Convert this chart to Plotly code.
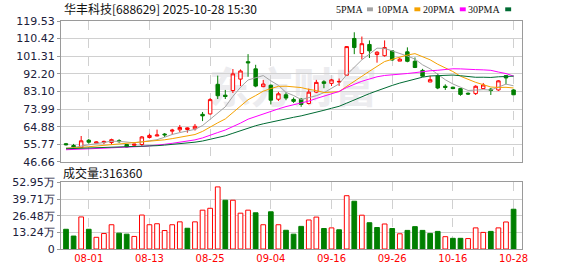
import plotly.graph_objects as go
import pandas as pd

# ---------------- data ----------------
dates = ["07-29", "07-30", "07-31", "08-01", "08-04", "08-05", "08-06", "08-07", "08-08",
         "08-11", "08-12", "08-13", "08-14", "08-15", "08-18", "08-19", "08-20", "08-21", "08-22",
         "08-25", "08-26", "08-27", "08-28", "08-29", "09-01", "09-02", "09-03", "09-04", "09-05",
         "09-08", "09-09", "09-10", "09-11", "09-12", "09-15", "09-16", "09-17", "09-18", "09-19",
         "09-22", "09-23", "09-24", "09-25", "09-26", "09-29", "09-30", "10-09", "10-10",
         "10-13", "10-14", "10-15", "10-16", "10-17", "10-20", "10-21", "10-22", "10-23", "10-24",
         "10-27", "10-28"]

opens = [56.1, 55.2, 54.2, 57.9, 56.4, 56.7, 56.7, 57.7, 55.7, 55.3,
         55.7, 59.3, 60.1, 61.1, 62.6, 63.3, 63.45, 63.8, 71.3, 71.5,
         86.8, 81.2, 83.6, 89.5, 98.5, 94.8, 85.6, 86.3, 79.1, 81.4,
         79.0, 79.1, 76.9, 82.75, 88.1, 87.3, 88.0, 91.5, 110.5, 102.7,
         107.4, 102.2, 101.6, 104.1, 98.8, 103.6, 98.7, 94.0, 88.0, 91.2,
         85.8, 85.3, 84.6, 82.2, 82.0, 84.6, 84.3, 83.9, 91.3, 83.9]
highs = [56.5, 56.0, 60.1, 58.6, 57.3, 57.7, 58.7, 58.4, 55.9, 56.1,
         60.1, 61.3, 63.4, 61.6, 63.8, 65.8, 64.6, 66.3, 72.5, 79.7,
         91.3, 83.9, 94.7, 94.5, 102.4, 96.9, 89.1, 86.8, 82.9, 82.6,
         80.0, 79.7, 84.6, 89.1, 88.9, 89.6, 89.8, 106.6, 113.7, 111.5,
         109.5, 103.9, 109.5, 104.4, 100.6, 105.9, 100.7, 94.8, 91.2, 92.3,
         86.8, 85.6, 84.9, 82.6, 86.3, 87.5, 84.9, 88.95, 91.3, 84.3]
lows = [55.2, 53.7, 53.9, 56.1, 56.0, 55.9, 55.7, 56.6, 54.2, 55.0,
        55.0, 58.8, 60.0, 59.6, 60.8, 62.1, 61.8, 62.9, 67.8, 71.2,
        79.2, 79.2, 82.3, 85.9, 90.7, 85.3, 85.3, 76.4, 78.2, 78.6,
        77.2, 75.2, 76.4, 82.25, 84.8, 85.95, 86.0, 91.2, 102.4, 99.7,
        100.4, 98.0, 101.1, 99.0, 98.8, 98.2, 95.2, 90.6, 88.0, 84.3,
        83.9, 84.3, 80.9, 81.3, 81.3, 84.6, 81.3, 83.4, 86.8, 81.4]
closes = [55.6, 54.4, 57.6, 56.9, 57.0, 57.3, 58.2, 57.2, 54.4, 55.9,
          59.6, 60.4, 60.6, 60.7, 63.1, 64.5, 64.3, 65.1, 70.5, 78.9,
          80.9, 80.5, 92.2, 93.7, 97.9, 85.9, 86.96, 78.6, 81.9, 79.7,
          78.0, 76.4, 82.75, 87.8, 87.3, 89.1, 88.3, 106.3, 105.8, 107.8,
          104.1, 103.4, 105.8, 99.4, 99.8, 98.7, 95.5, 91.0, 89.2, 84.9,
          85.2, 84.6, 81.6, 81.8, 85.8, 86.45, 83.6, 88.6, 90.1, 81.4]
# volume in 万 (10k shares)
volumes_wan = [15.7, 10.3, 25.5, 15.7, 9.3, 12.3, 19.3, 12.6, 11.8, 10.0,
               27.0, 19.3, 20.1, 14.7, 19.3, 21.6, 16.5, 21.6, 30.9, 32.4,
               49.4, 38.8, 38.8, 28.5, 30.9, 28.8, 19.3, 29.6, 19.3, 14.9,
               11.8, 18.0, 23.1, 25.4, 16.3, 16.8, 15.3, 42.4, 38.0, 26.9,
               20.9, 17.1, 19.9, 16.3, 12.1, 14.8, 17.8, 14.8, 12.4, 14.0,
               9.8, 8.5, 8.5, 8.3, 16.8, 13.2, 14.0, 16.8, 21.5, 31.636]

# moving-average values before each window is full
ma5_head = [53.9, 54.1, 54.9, 55.6]
ma10_head = [53.7, 53.8, 54.2, 54.55, 54.9, 55.3, 55.75, 56.1, 56.2]
ma20_head = [53.0, 53.1, 53.3, 53.5, 53.6, 53.8, 54.0, 54.1, 54.2, 54.4,
             54.7, 55.0, 55.3, 55.8, 56.3, 56.9, 57.5, 58.1, 59.1]
ma30_head = [53.5, 53.6, 53.7, 53.8, 53.9, 54.0, 54.1, 54.2, 54.3, 54.4,
             54.6, 54.9, 55.1, 55.4, 55.7, 56.1, 56.5, 56.9, 57.5, 58.3,
             59.3, 60.2, 61.5, 62.8, 64.3, 65.4, 66.4, 67.3, 68.2]

price_ticks = [46.66, 55.77, 64.88, 73.99, 83.10, 92.20, 101.31, 110.42, 119.53]
vol_ticks = [0, 13.24, 26.48, 39.71, 52.95]
vol_tick_text = ["0", "13.24万", "26.48万", "39.71万", "52.95万"]
x_ticks = ["08-01", "08-13", "08-25", "09-04", "09-16", "09-26", "10-16", "10-28"]

title_text = "华丰科技[688629] 2025-10-28 15:30"
ma_names = ["5PMA", "10PMA", "20PMA", "30PMA"]
ma_windows = [5, 10, 20, 30]
ma_heads = [ma5_head, ma10_head, ma20_head, ma30_head]
ma_colors = ["#a3a3a3", "#f5a200", "#ff00ff", "#006b33"]

RED = "#ff0000"
GREEN = "#007f00"

# ---------------- geometry helpers ----------------
W, H = 578, 276
ML, MR, MT, MB = 55, 56, 21, 21
PW, PH = W - ML - MR, H - MT - MB


def px_x(px):
    return (px - ML) / PW


def px_y(py):
    return (H - MB - py) / PH


close_s = pd.Series(closes)
ma_values = []
for n, head in zip(ma_windows, ma_heads):
    m = close_s.rolling(n).mean().tolist()
    m[:n - 1] = head
    ma_values.append(m)

vol_up = [closes[0] >= opens[0]] + [closes[i] >= closes[i - 1] for i in range(1, len(closes))]

fig = go.Figure()

fig.add_trace(go.Candlestick(
    x=dates, open=opens, high=highs, low=lows, close=closes,
    increasing=dict(line=dict(color=RED, width=1), fillcolor="white"),
    decreasing=dict(line=dict(color=GREEN, width=1), fillcolor=GREEN),
    whiskerwidth=0, xaxis="x", yaxis="y", hoverinfo="skip"))

for name, vals, col in zip(ma_names, ma_values, ma_colors):
    fig.add_trace(go.Scatter(x=dates, y=vals, mode="lines", name=name,
                             line=dict(color=col, width=1), xaxis="x", yaxis="y",
                             hoverinfo="skip"))

fig.add_trace(go.Bar(
    x=dates, y=volumes_wan, width=0.62,
    marker=dict(color=["white" if u else GREEN for u in vol_up],
                line=dict(color=[RED if u else GREEN for u in vol_up], width=1)),
    xaxis="x2", yaxis="y2", hoverinfo="skip"))

grid = "#d0d0d0"
frame = "#9a9a9a"
tick_font = dict(family="DejaVu Sans", size=11, color="#20203a")

fig.update_layout(
    width=W, height=H, margin=dict(l=ML, r=MR, t=MT, b=MB),
    paper_bgcolor="white", plot_bgcolor="rgba(0,0,0,0)",
    showlegend=False, boxgap=0.35,
    xaxis=dict(type="category", categoryorder="array", categoryarray=dates,
               range=[-0.66, 60.11], anchor="y", showticklabels=False,
               tickvals=x_ticks, ticks="", showgrid=True, gridcolor=grid,
               griddash="dash", gridwidth=1, showline=True, mirror=True,
               linecolor=frame, linewidth=1, rangeslider=dict(visible=False),
               zeroline=False),
    yaxis=dict(domain=[px_y(165.7), 1], range=[46.66, 119.53], tickvals=price_ticks,
               ticktext=["%.2f" % v for v in price_ticks], tickfont=tick_font,
               showgrid=True, gridcolor=grid, showline=True, mirror=True,
               linecolor=frame, ticks="outside", ticklen=3, tickcolor=frame,
               zeroline=False),
    xaxis2=dict(type="category", categoryorder="array", categoryarray=dates,
                range=[-0.66, 60.11], anchor="y2", matches="x",
                tickvals=x_ticks, ticks="", showgrid=True, gridcolor=grid,
                griddash="dash", showline=True, mirror=True, linecolor=frame,
                tickfont=dict(family="DejaVu Sans", size=10, color=RED),
                zeroline=False),
    yaxis2=dict(domain=[0, px_y(186.7)], range=[0, 52.95], tickvals=vol_ticks,
                ticktext=vol_tick_text, tickfont=tick_font, showgrid=True,
                gridcolor=grid, showline=True, mirror=True, linecolor=frame,
                ticks="outside", ticklen=3, tickcolor=frame, zeroline=False),
)

annotations = [
    dict(text=title_text, xref="paper", yref="paper", x=px_x(56), y=px_y(8),
         xanchor="left", yanchor="middle", showarrow=False,
         font=dict(family="Noto Sans CJK SC", size=12, color="#111111")),
    dict(text="成交量:%d" % round(volumes_wan[-1] * 10000), xref="paper", yref="paper",
         x=px_x(55), y=px_y(176.5), xanchor="left", yanchor="middle", showarrow=False,
         font=dict(family="Noto Sans CJK SC", size=12, color="#111111")),
]
shapes = [
    dict(type="rect", xref="paper", yref="paper", x0=px_x(195), x1=px_x(385),
         y0=px_y(115), y1=px_y(72), line=dict(width=0), fillcolor="rgba(0,0,0,0)",
         layer="below",
         label=dict(text="东方财富", font=dict(family="Noto Sans CJK SC", size=42,
                                              color="#ececef", weight="bold"))),
]
legend_text_right = [363, 410, 456, 502]
legend_square_left = [365, 413, 459, 505]
for name, col, tr, sq in zip(ma_names, ma_colors, legend_text_right, legend_square_left):
    annotations.append(dict(text=name, xref="paper", yref="paper", x=px_x(tr), y=px_y(9),
                            xanchor="right", yanchor="middle", showarrow=False,
                            font=dict(family="Liberation Serif", size=10, color="#111111")))
    shapes.append(dict(type="rect", xref="paper", yref="paper", x0=px_x(sq), x1=px_x(sq + 6),
                       y0=px_y(11), y1=px_y(7), line=dict(width=0), fillcolor=col))

fig.update_layout(annotations=annotations, shapes=shapes)
fig.write_html("out.html")
